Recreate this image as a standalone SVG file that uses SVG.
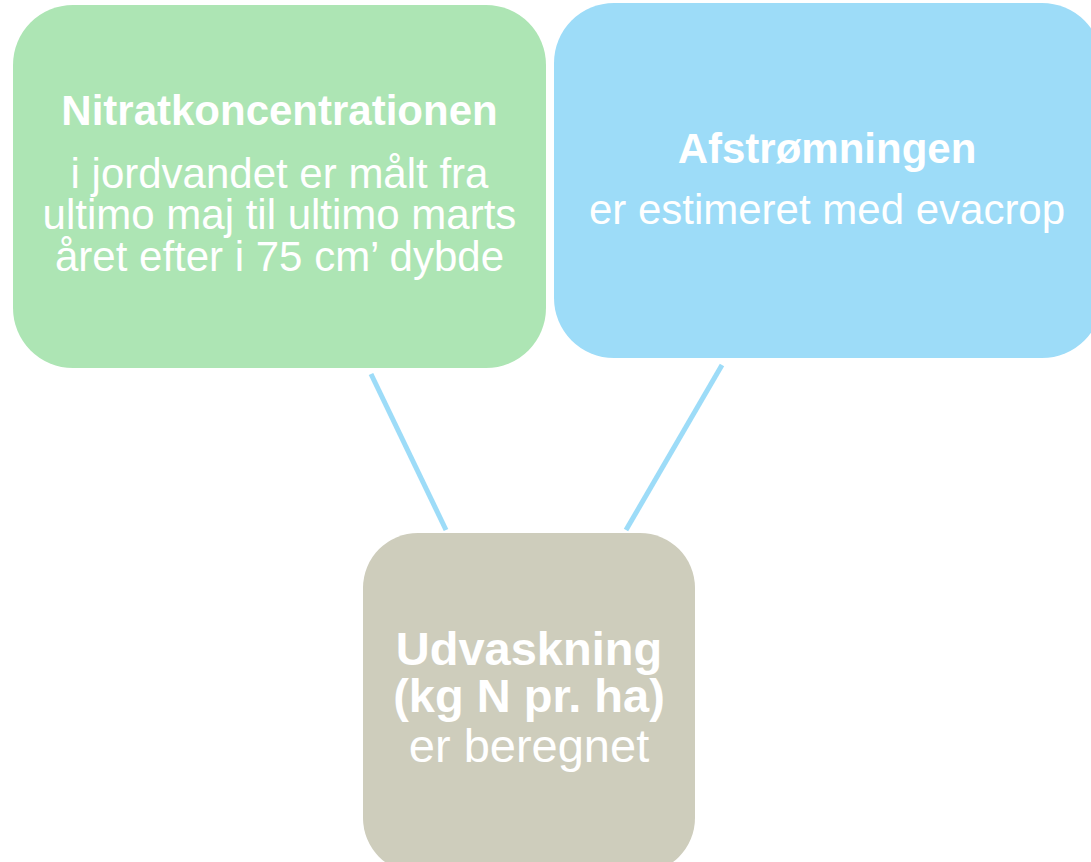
<svg xmlns="http://www.w3.org/2000/svg" width="1091" height="862" viewBox="0 0 1091 862">
<style>
.t{font-family:"Liberation Sans",Arial,sans-serif;fill:#ffffff;text-anchor:middle}
.b{font-weight:bold}
.top{font-size:42px}
.bot{font-size:47px}
.conn{stroke:#9ddcf8;stroke-width:5;fill:none}
</style>
<rect width="1091" height="862" fill="#ffffff"/>
<g id="connectors">
<line class="conn" x1="371" y1="374" x2="446" y2="530"/>
<line class="conn" x1="722" y1="365" x2="626" y2="530"/>
</g>
<g id="node-nitrat">
<rect x="13" y="5" width="533" height="363" rx="60" fill="#ade5b4"/>
<text class="t top b" x="279.5" y="125">Nitratkoncentrationen</text>
<text class="t top" x="279.5" y="188">i jordvandet er målt fra</text>
<text class="t top" x="279.5" y="229">ultimo maj til ultimo marts</text>
<text class="t top" x="279.5" y="271">året efter i 75 cm’ dybde</text>
</g>
<g id="node-afstromning">
<rect x="554" y="3" width="548" height="355" rx="60" fill="#9ddcf8"/>
<text class="t top b" x="827" y="163">Afstrømningen</text>
<text class="t top" x="827" y="224">er estimeret med evacrop</text>
</g>
<g id="node-udvaskning">
<rect x="363" y="533" width="332" height="340" rx="55" fill="#cecdbc"/>
<text class="t bot b" x="529" y="665">Udvaskning</text>
<text class="t bot b" x="529" y="712">(kg N pr. ha)</text>
<text class="t bot" x="529" y="762">er beregnet</text>
</g>
</svg>
